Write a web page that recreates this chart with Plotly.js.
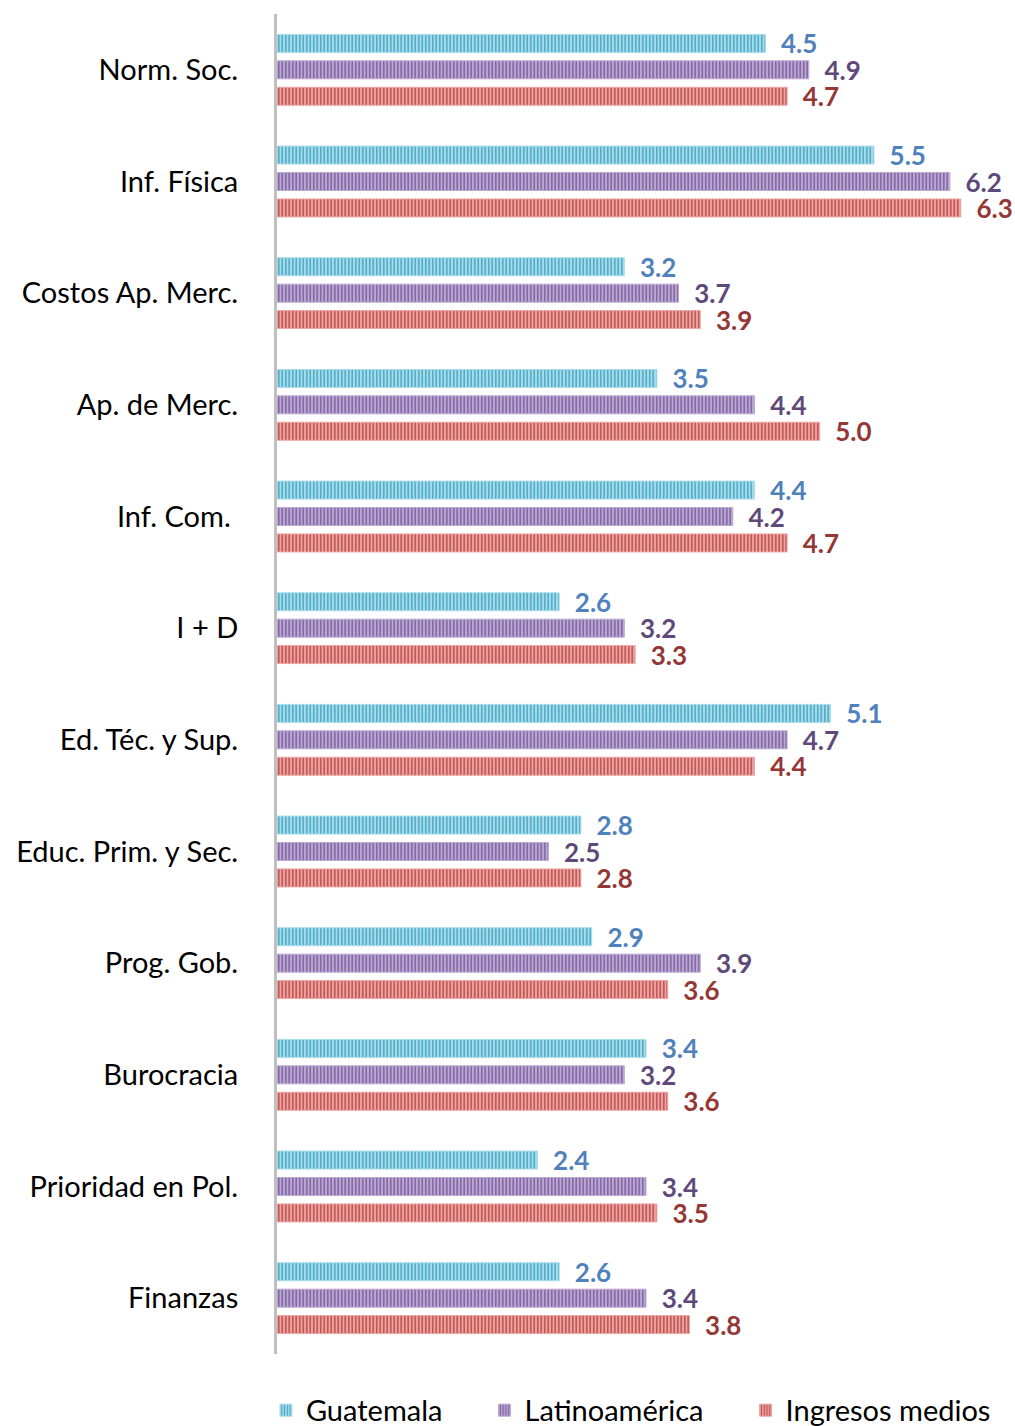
<!DOCTYPE html>
<html>
<head>
<meta charset="utf-8">
<script src="https://cdn.plot.ly/plotly-3.0.1.min.js"></script>
<style>html,body{margin:0;padding:0;background:#fff;}#chart{width:1015px;height:1426px;}</style>
</head>
<body>
<div id="chart"></div>
<script>
const categories = ["Norm. Soc.", "Inf. Física", "Costos Ap. Merc.", "Ap. de Merc.", "Inf. Com.\u00a0", "I + D",
  "Ed. Téc. y Sup.", "Educ. Prim. y Sec.", "Prog. Gob.", "Burocracia", "Prioridad en Pol.", "Finanzas"];
const seriesNames = ["Guatemala", "Latinoamérica", "Ingresos medios"];
const guatemala = [4.5, 5.5, 3.2, 3.5, 4.4, 2.6, 5.1, 2.8, 2.9, 3.4, 2.4, 2.6];
const latinoamerica = [4.9, 6.2, 3.7, 4.4, 4.2, 3.2, 4.7, 2.5, 3.9, 3.2, 3.4, 3.4];
const ingresosMedios = [4.7, 6.3, 3.9, 5.0, 4.7, 3.3, 4.4, 2.8, 3.6, 3.6, 3.5, 3.8];

const FONT = "Lato, 'Open Sans', sans-serif";
const styles = [
  {fg: "#4AAAC6", bg: "#A9DCEA", label: "#4F81BD"},
  {fg: "#8064A2", bg: "#BBA9D3", label: "#5F497A"},
  {fg: "#C0504D", bg: "#EBA5A3", label: "#953735"}
];
const values = [guatemala, latinoamerica, ingresosMedios];
const PAD = "\u00a0".repeat(5);

const traces = values.map((v, i) => ({
  type: "bar",
  orientation: "h",
  name: seriesNames[i] + (i < seriesNames.length - 1 ? PAD : ""),
  y: categories,
  x: v,
  text: v.map(d => "\u00a0\u00a0" + d.toFixed(1)),
  textposition: "outside",
  constraintext: "none",
  cliponaxis: false,
  textfont: {family: FONT, size: 26, color: styles[i].label, weight: "bold"},
  marker: {
    color: styles[i].bg,
    line: {color: styles[i].bg, width: 1},
    pattern: {shape: "|", size: 3.5, solidity: 0.45, fgcolor: styles[i].fg, bgcolor: styles[i].bg, fillmode: "replace"}
  },
  hoverinfo: "none"
}));

const layout = {
  width: 1015,
  height: 1426,
  margin: {l: 277, r: 0, t: 14, b: 72, autoexpand: false},
  paper_bgcolor: "#fff",
  plot_bgcolor: "#fff",
  barmode: "group",
  bargap: 0.29,
  bargroupgap: 0.32,
  showlegend: true,
  legend: {
    orientation: "h",
    xref: "container", x: 0.262, xanchor: "left",
    yref: "container", y: 0.011, yanchor: "middle",
    font: {family: FONT, size: 29, color: "#000"},
    itemwidth: 30,
    traceorder: "normal"
  },
  xaxis: {
    range: [0, 6.8],
    showgrid: false, zeroline: false, showticklabels: false, ticks: "", showline: false
  },
  yaxis: {
    type: "category",
    autorange: "reversed",
    showgrid: false, zeroline: false, ticks: "",
    showline: true, linecolor: "#BFBFBF", linewidth: 3,
    ticklabelstandoff: 30,
    tickfont: {family: FONT, size: 29, color: "#000"}
  }
};

Plotly.newPlot("chart", traces, layout, {staticPlot: true, displayModeBar: false});
</script>
</body>
</html>
